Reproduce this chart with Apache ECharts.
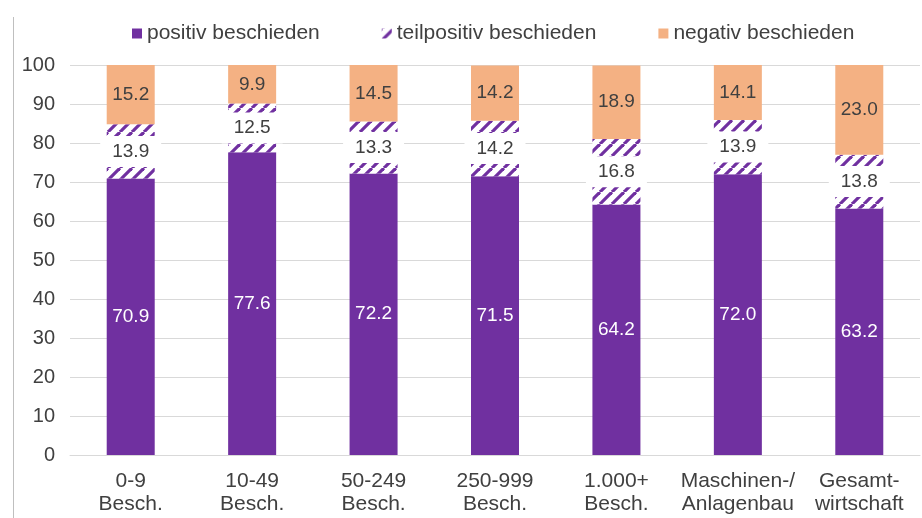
<!DOCTYPE html>
<html>
<head>
<meta charset="utf-8">
<script src="https://cdn.jsdelivr.net/npm/echarts@6/dist/echarts.min.js"></script>
<style>
  html, body { margin: 0; padding: 0; background: #fff; }
  #chart { width: 922px; height: 518px; }
</style>
</head>
<body>
<div id="chart"></div>
<script>
const categories = ['0-9\nBesch.', '10-49\nBesch.', '50-249\nBesch.', '250-999\nBesch.', '1.000+\nBesch.', 'Maschinen-/\nAnlagenbau', 'Gesamt-\nwirtschaft']
const positiv = [70.9, 77.6, 72.2, 71.5, 64.2, 72.0, 63.2]
const teilpositiv = [13.9, 12.5, 13.3, 14.2, 16.8, 13.9, 13.8]
const negativ = [15.2, 9.9, 14.5, 14.2, 18.9, 14.1, 23.0]
const yTicks = [0, 10, 20, 30, 40, 50, 60, 70, 80, 90, 100]

const purple = '#7030A0'
const orange = '#F4B183'
const textColor = '#404040'
const font = 'Liberation Sans'

// diagonal stripes for "teilpositiv"
const makeHatch = () => {
    const c = document.createElement('canvas')
    c.width = 12
    c.height = 12
    const ctx = c.getContext('2d')
    ctx.fillStyle = '#fff'
    ctx.fillRect(0, 0, 12, 12)
    ctx.strokeStyle = purple
    ctx.lineWidth = 3.2
    for (const k of [-12, 0, 12]) {
        ctx.beginPath()
        ctx.moveTo(k, 12)
        ctx.lineTo(k + 12, 0)
        ctx.stroke()
    }
    return c
}

const chart = echarts.init(document.getElementById('chart'))
const fmt = p => p.value.toFixed(1)

const option = {
    animation: false,
    textStyle: { fontFamily: font, color: textColor },
    legend: {
        top: 18,
        left: 127,
        itemWidth: 10,
        itemHeight: 10,
        itemGap: 62,
        icon: 'rect',
        textStyle: { fontSize: 21, color: textColor, fontFamily: font },
        data: ['positiv beschieden', 'teilpositiv beschieden', 'negativ beschieden']
    },
    grid: { left: 70, right: 2, top: 65, bottom: 63, containLabel: false },
    xAxis: {
        type: 'category',
        data: categories,
        axisLine: { lineStyle: { color: '#d9d9d9', width: 1 } },
        axisTick: { show: false },
        axisLabel: { fontSize: 21, color: textColor, lineHeight: 23, margin: 15, interval: 0 }
    },
    yAxis: {
        type: 'value',
        min: yTicks[0],
        max: yTicks[yTicks.length - 1],
        interval: 10,
        axisLine: { show: false },
        axisTick: { show: false },
        splitLine: { lineStyle: { color: '#d9d9d9', width: 1 } },
        axisLabel: { fontSize: 20, color: textColor, margin: 15 }
    },
    series: [
        {
            name: 'positiv beschieden',
            type: 'bar',
            stack: 'all',
            barWidth: 48,
            data: positiv,
            itemStyle: { color: purple },
            label: { show: true, position: 'inside', formatter: fmt, color: '#fff', fontSize: 19 }
        },
        {
            name: 'teilpositiv beschieden',
            type: 'bar',
            stack: 'all',
            barWidth: 48,
            data: teilpositiv,
            itemStyle: { color: { image: makeHatch(), repeat: 'repeat' } },
            label: {
                show: true, position: 'inside', formatter: fmt, color: textColor, fontSize: 19,
                backgroundColor: '#fff', padding: [6, 12]
            }
        },
        {
            name: 'negativ beschieden',
            type: 'bar',
            stack: 'all',
            barWidth: 48,
            data: negativ,
            itemStyle: { color: orange },
            label: { show: true, position: 'inside', formatter: fmt, color: textColor, fontSize: 19 }
        }
    ],
    graphic: [{
        type: 'line',
        shape: { x1: 13.5, y1: 17, x2: 13.5, y2: 518 },
        style: { stroke: '#bfbfbf', lineWidth: 1 }
    }]
}

chart.setOption(option)
</script>
</body>
</html>
